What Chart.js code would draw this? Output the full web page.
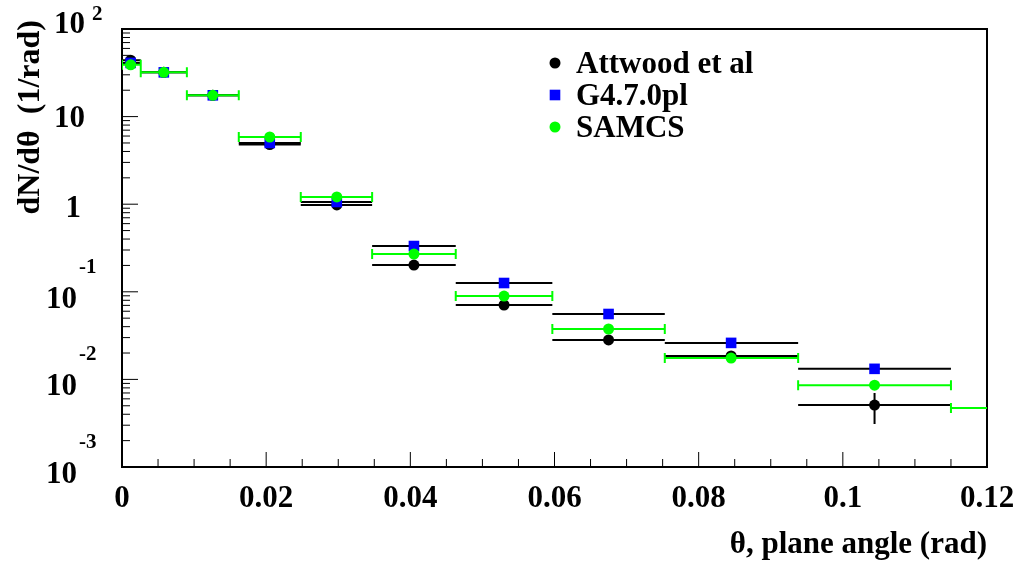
<!DOCTYPE html>
<html>
<head>
<meta charset="utf-8">
<title>dN/dtheta</title>
<script src="https://cdn.jsdelivr.net/npm/chart.js@4/dist/chart.umd.min.js"></script>
<style>
  html, body { margin: 0; padding: 0; background: #fff; }
  canvas { display: block; }
</style>
</head>
<body>
<canvas id="thetaChart" width="1020" height="561"></canvas>
<script>
// theta bins (rad)
const binLow    = [0.0, 0.0026, 0.0090, 0.0162, 0.0248, 0.0347, 0.0463, 0.0597, 0.0753, 0.0938, 0.1150];
const binHigh   = [0.0026, 0.0090, 0.0162, 0.0248, 0.0347, 0.0463, 0.0597, 0.0753, 0.0938, 0.1150, 0.1400];
const binCenter = [0.0012, 0.0058, 0.0126, 0.0205, 0.0298, 0.0405, 0.0530, 0.0675, 0.0845, 0.1044, 0.1275];

// dN/dtheta (1/rad)
const attwood   = [44, 32, 17.5, 4.8, 0.98, 0.202, 0.0707, 0.0282, 0.0185, 0.0051];
const attwoodLo = [null, null, null, null, null, null, null, null, null, 0.0031];
const attwoodHi = [null, null, null, null, null, null, null, null, null, 0.0070];
const g4        = [41, 32, 17.5, 5.0, 1.06, 0.333, 0.126, 0.0558, 0.0261, 0.0132];
const samcs     = [39, 32, 17.5, 5.85, 1.21, 0.270, 0.0895, 0.0376, 0.0175, 0.0086, 0.0047];

const xTickValues = [0, 0.02, 0.04, 0.06, 0.08, 0.1, 0.12];
const xTickLabels = ['0', '0.02', '0.04', '0.06', '0.08', '0.1', '0.12'];
const yTickValues = [100, 10, 1, 0.1, 0.01, 0.001];
const yTickBase   = ['10', '10', '1', '10', '10', '10'];
const yTickExp    = ['2', '', '', '-1', '-2', '-3'];

const FONT = '"Liberation Serif", "Times New Roman", serif';

function points(values) {
  return values.map((v, i) => ({ x: binCenter[i], y: v }));
}

// ROOT-style frame, inner ticks and labels
const frameAndAxes = {
  id: 'frameAndAxes',
  beforeDatasetsDraw(chart) {
    const { ctx, chartArea: a, scales: { x, y } } = chart;
    ctx.save();
    ctx.strokeStyle = '#000';
    ctx.lineWidth = 2;
    ctx.strokeRect(a.left, a.top, a.right - a.left, a.bottom - a.top);

    ctx.lineWidth = 1;
    ctx.beginPath();
    for (let i = 0; i <= 24; i++) {
      const px = x.getPixelForValue(i * 0.005);
      const len = i % 4 === 0 ? 15 : 8;
      ctx.moveTo(px, a.bottom);
      ctx.lineTo(px, a.bottom - len);
    }
    for (let d = -3; d <= 1; d++) {
      for (let m = 1; m <= 9; m++) {
        const py = y.getPixelForValue(m * Math.pow(10, d));
        const len = m === 1 ? 16 : 8;
        ctx.moveTo(a.left, py);
        ctx.lineTo(a.left + len, py);
      }
    }
    ctx.stroke();

    ctx.fillStyle = '#000';
    ctx.font = 'bold 31px ' + FONT;
    ctx.textAlign = 'center';
    ctx.textBaseline = 'alphabetic';
    xTickValues.forEach((v, i) => {
      ctx.fillText(xTickLabels[i], x.getPixelForValue(v), a.bottom + 40);
    });

    yTickValues.forEach((v, i) => {
      const py = y.getPixelForValue(v);
      const exp = yTickExp[i];
      ctx.font = 'bold 31px ' + FONT;
      ctx.textAlign = 'right';
      if (exp === '') {
        ctx.fillText(yTickBase[i], yTickBase[i] === '1' ? 81 : 85, py + (yTickBase[i] === '1' ? 13 : 10));
      } else if (exp.startsWith('-')) {
        ctx.fillText(yTickBase[i], 77, py + 16);
        ctx.font = 'bold 21px ' + FONT;
        ctx.textAlign = 'left';
        ctx.fillText(exp, 79, py - 19);
      } else {
        ctx.fillText(yTickBase[i], 85, py + 4);
        ctx.font = 'bold 21px ' + FONT;
        ctx.textAlign = 'left';
        ctx.fillText(exp, 92, py - 9);
      }
    });

    // axis titles
    ctx.font = 'bold 31px ' + FONT;
    ctx.textAlign = 'right';
    ctx.fillText('\u03b8, plane angle (rad)', a.right, 553);

    ctx.save();
    ctx.translate(39, 20);
    ctx.rotate(-Math.PI / 2);
    ctx.font = 'bold 32px ' + FONT;
    ctx.textAlign = 'right';
    ctx.fillText('dN/d\u03b8  (1/rad)', 0, 0);
    ctx.restore();

    ctx.restore();
  }
};

// horizontal bin-width bars and vertical errors, drawn under each dataset's markers
const errorBars = {
  id: 'errorBars',
  beforeDatasetDraw(chart, args) {
    const ds = chart.data.datasets[args.index];
    const { ctx, chartArea: a, scales: { x, y } } = chart;
    ctx.save();
    ctx.beginPath();
    ctx.rect(a.left, a.top, a.right - a.left, a.bottom - a.top);
    ctx.clip();
    ctx.strokeStyle = ds.barColor;
    ctx.lineWidth = 2;
    ctx.beginPath();
    ds.data.forEach((p, i) => {
      const py = y.getPixelForValue(p.y);
      const x0 = x.getPixelForValue(binLow[i]);
      const x1 = x.getPixelForValue(binHigh[i]);
      ctx.moveTo(x0, py);
      ctx.lineTo(x1, py);
      if (ds.caps) {
        ctx.moveTo(x0, py - 5); ctx.lineTo(x0, py + 5);
        ctx.moveTo(x1, py - 5); ctx.lineTo(x1, py + 5);
      }
      if (ds.errLo && ds.errLo[i] != null) {
        const px = x.getPixelForValue(p.x);
        ctx.moveTo(px, y.getPixelForValue(ds.errLo[i]));
        ctx.lineTo(px, y.getPixelForValue(ds.errHi[i]));
      }
    });
    ctx.stroke();
    ctx.restore();
  }
};

// legend inside the frame
const frameLegend = {
  id: 'frameLegend',
  afterDatasetsDraw(chart) {
    const { ctx } = chart;
    const rows = [
      { text: 'Attwood et al', ds: chart.data.datasets[0], y: 63 },
      { text: 'G4.7.0pl', ds: chart.data.datasets[1], y: 95 },
      { text: 'SAMCS', ds: chart.data.datasets[2], y: 127 }
    ];
    ctx.save();
    rows.forEach(r => {
      ctx.fillStyle = r.ds.backgroundColor;
      ctx.strokeStyle = r.ds.backgroundColor;
      Chart.helpers.drawPoint(ctx, {
        pointStyle: r.ds.pointStyle,
        radius: r.ds.pointRadius,
        borderWidth: 0,
        rotation: 0
      }, 555, r.y);
      ctx.fillStyle = '#000';
      ctx.font = 'bold 31px ' + FONT;
      ctx.textAlign = 'left';
      ctx.textBaseline = 'alphabetic';
      ctx.fillText(r.text, 576, r.y + 10);
    });
    ctx.restore();
  }
};

new Chart(document.getElementById('thetaChart'), {
  type: 'scatter',
  data: {
    datasets: [
      {
        label: 'Attwood et al',
        data: points(attwood),
        errLo: attwoodLo,
        errHi: attwoodHi,
        barColor: '#000000',
        caps: false,
        backgroundColor: '#000000',
        borderColor: '#000000',
        borderWidth: 0,
        pointStyle: 'circle',
        pointRadius: 5.5,
        order: 3
      },
      {
        label: 'G4.7.0pl',
        data: points(g4),
        barColor: '#000000',
        caps: false,
        backgroundColor: '#0000ff',
        borderColor: '#0000ff',
        borderWidth: 0,
        pointStyle: 'rect',
        pointRadius: 7.5,
        order: 2
      },
      {
        label: 'SAMCS',
        data: points(samcs),
        barColor: '#00ff00',
        caps: true,
        backgroundColor: '#00ff00',
        borderColor: '#00ff00',
        borderWidth: 0,
        pointStyle: 'circle',
        pointRadius: 5.5,
        order: 1
      }
    ]
  },
  options: {
    responsive: false,
    animation: false,
    layout: { padding: { left: 122, top: 29, right: 33, bottom: 94 } },
    scales: {
      x: { type: 'linear', min: 0, max: 0.12, display: false },
      y: { type: 'logarithmic', min: 0.001, max: 100, display: false }
    },
    plugins: {
      legend: { display: false },
      tooltip: { enabled: false }
    }
  },
  plugins: [frameAndAxes, errorBars, frameLegend]
});
</script>
</body>
</html>
